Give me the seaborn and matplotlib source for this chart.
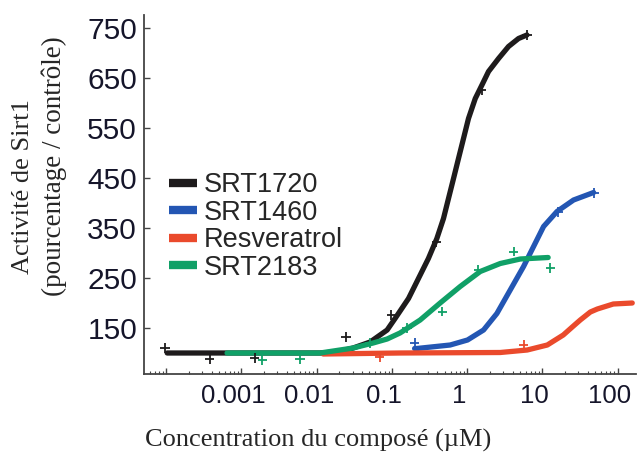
import numpy as np
import pandas as pd
import matplotlib
matplotlib.use('Agg')
import matplotlib.pyplot as plt
import matplotlib.transforms as mtransforms
from matplotlib.lines import Line2D
from matplotlib.ticker import LogLocator, NullFormatter, FixedLocator, FixedFormatter
import seaborn as sns

# --- Data (concentration in uM, activity in % of control) ---

compounds = ['SRT1720', 'SRT1460', 'Resveratrol', 'SRT2183']
colors = ['#1e1b1c', '#2356b3', '#ea4a2c', '#10a067']

# fitted curves
srt1720_x = [1.03e-4, 6.44e-4, 3.26e-3, 0.0111, 0.0187, 0.0305, 0.0513, 0.0863, 0.110,
             0.166, 0.225, 0.305, 0.395, 0.484, 0.564, 0.658, 0.766, 0.893, 1.04,
             1.28, 1.57, 1.92, 2.61, 3.54, 4.81, 6.22]
srt1720_y = [100, 100, 100, 100, 102, 110, 122, 146, 169,
             209, 249, 289, 329, 369, 409, 449, 489, 529, 569,
             609, 636, 663, 689, 713, 729, 736]

srt1460_x = [0.20, 0.214, 0.594, 1.01, 1.65, 2.48, 3.73, 5.61, 7.62, 10.35, 15.6, 25.9, 47.8]
srt1460_y = [109, 109, 116, 126, 146, 179, 226, 273, 313, 353, 383, 406, 421]

resv_x = [0.0122, 0.128, 2.75, 6.28, 11.6, 18.9, 24.9, 31.8, 43.3, 53.6, 87.4, 156]
resv_y = [98, 100, 101, 106, 116, 136, 152, 166, 182, 188, 198, 200]

srt2183_x = [6.44e-4, 0.0111, 0.0305, 0.0562, 0.0863, 0.128, 0.237, 0.437, 0.807,
             1.49, 2.75, 5.07, 11.9]
srt2183_y = [100, 100, 110, 120, 128, 140, 166, 200, 233,
             263, 279, 288, 291]

# measured points
srt1720_px = [9.6e-5, 3.8e-4, 1.5e-3, 0.0245, 0.098, 0.39, 1.56, 6.25]
srt1720_py = [110, 88, 90, 132, 176, 322, 626, 736]
srt1460_px = [0.2, 16.2, 48.6]
srt1460_py = [120, 382, 420]
resv_px = [0.069, 5.6]
resv_py = [92, 116]
srt2183_px = [0.0019, 0.0060, 0.051, 0.158, 0.466, 1.40, 4.13, 12.7]
srt2183_py = [86, 88, 120, 150, 183, 266, 303, 270]

x_tick_values = [0.001, 0.01, 0.1, 1, 10, 100]
x_tick_labels = ['0.001', '0.01', '0.1', '1', '10', '100']
y_tick_values = [150, 250, 350, 450, 550, 650, 750]

curves = pd.concat([
    pd.DataFrame({'conc': srt1720_x, 'act': srt1720_y, 'compound': 'SRT1720'}),
    pd.DataFrame({'conc': srt1460_x, 'act': srt1460_y, 'compound': 'SRT1460'}),
    pd.DataFrame({'conc': resv_x, 'act': resv_y, 'compound': 'Resveratrol'}),
    pd.DataFrame({'conc': srt2183_x, 'act': srt2183_y, 'compound': 'SRT2183'}),
], ignore_index=True)

points = pd.concat([
    pd.DataFrame({'conc': srt1720_px, 'act': srt1720_py, 'compound': 'SRT1720'}),
    pd.DataFrame({'conc': srt1460_px, 'act': srt1460_py, 'compound': 'SRT1460'}),
    pd.DataFrame({'conc': resv_px, 'act': resv_py, 'compound': 'Resveratrol'}),
    pd.DataFrame({'conc': srt2183_px, 'act': srt2183_py, 'compound': 'SRT2183'}),
], ignore_index=True)

palette = dict(zip(compounds, colors))

sns.set_theme(style='ticks')
plt.rcParams['font.family'] = ['Liberation Sans', 'DejaVu Sans']

fig = plt.figure(figsize=(6.37, 4.53), dpi=100)
ax = fig.add_axes([144 / 637, 79 / 453, 492 / 637, 359 / 453])

# draw order: black, blue, red, green on top
for name in compounds:
    sub = curves[curves['compound'] == name]
    sns.lineplot(data=sub, x='conc', y='act', color=palette[name], linewidth=3.8,
                 sort=False, estimator=None, ax=ax, legend=False,
                 solid_capstyle='round', solid_joinstyle='round', zorder=3)

sns.scatterplot(data=points, x='conc', y='act', hue='compound', palette=palette,
                marker='+', s=45, linewidth=1.3, legend=False, ax=ax, zorder=4)

ax.set_xscale('log')
ax.set_xlim(5.07e-5, 175)
ax.set_ylim(58, 776)

ax.xaxis.set_major_locator(FixedLocator([1e-4] + x_tick_values))
ax.xaxis.set_major_formatter(FixedFormatter([''] + x_tick_labels))
ax.xaxis.set_minor_locator(LogLocator(base=10, subs=np.arange(2, 10), numticks=20))
ax.xaxis.set_minor_formatter(NullFormatter())
ax.set_yticks(y_tick_values)

ax.tick_params(axis='both', which='both', direction='in', color='#444444')
ax.tick_params(axis='x', which='major', length=4, width=1, labelsize=18.5, pad=7)
ax.tick_params(axis='x', which='minor', length=2.5, width=0.8)
ax.tick_params(axis='y', which='major', length=4, width=1, labelsize=21.5, pad=5)
for lab in ax.get_xticklabels() + ax.get_yticklabels():
    lab.set_color('#15152a')

# the reference prints its decade labels a little left of the tick marks
shift = mtransforms.ScaledTranslation(-8 / 100, 0, fig.dpi_scale_trans)
for lab in ax.xaxis.get_majorticklabels():
    lab.set_transform(lab.get_transform() + shift)

sns.despine(ax=ax)
for side in ['left', 'bottom']:
    ax.spines[side].set_color('#444444')
    ax.spines[side].set_linewidth(1.3)

ax.set_xlabel('')
ax.set_ylabel('')

serif = ['Liberation Serif', 'DejaVu Serif']
fig.text(318 / 637, 1 - 440 / 453, 'Concentration du composé (µM)', family=serif,
         fontsize=19, ha='center', va='center')
fig.text(23 / 637, 1 - 187 / 453, 'Activité de Sirt1', family=serif, fontsize=19,
         rotation=90, ha='center', va='center')
fig.text(54 / 637, 1 - 166 / 453, '(pourcentage / contrôle)', family=serif, fontsize=19.5,
         rotation=90, ha='center', va='center')

handles = [Line2D([], [], color=palette[n], linewidth=6, solid_capstyle='butt')
           for n in compounds]
ax.legend(handles, compounds, loc='upper left', bbox_to_anchor=(169 / 637, 1 - 172 / 453),
          bbox_transform=fig.transFigure, frameon=False, fontsize=19.5,
          handlelength=1.04, handletextpad=0.26, labelspacing=0.06,
          borderpad=0, borderaxespad=0)

fig.savefig('out.png', dpi=100)
